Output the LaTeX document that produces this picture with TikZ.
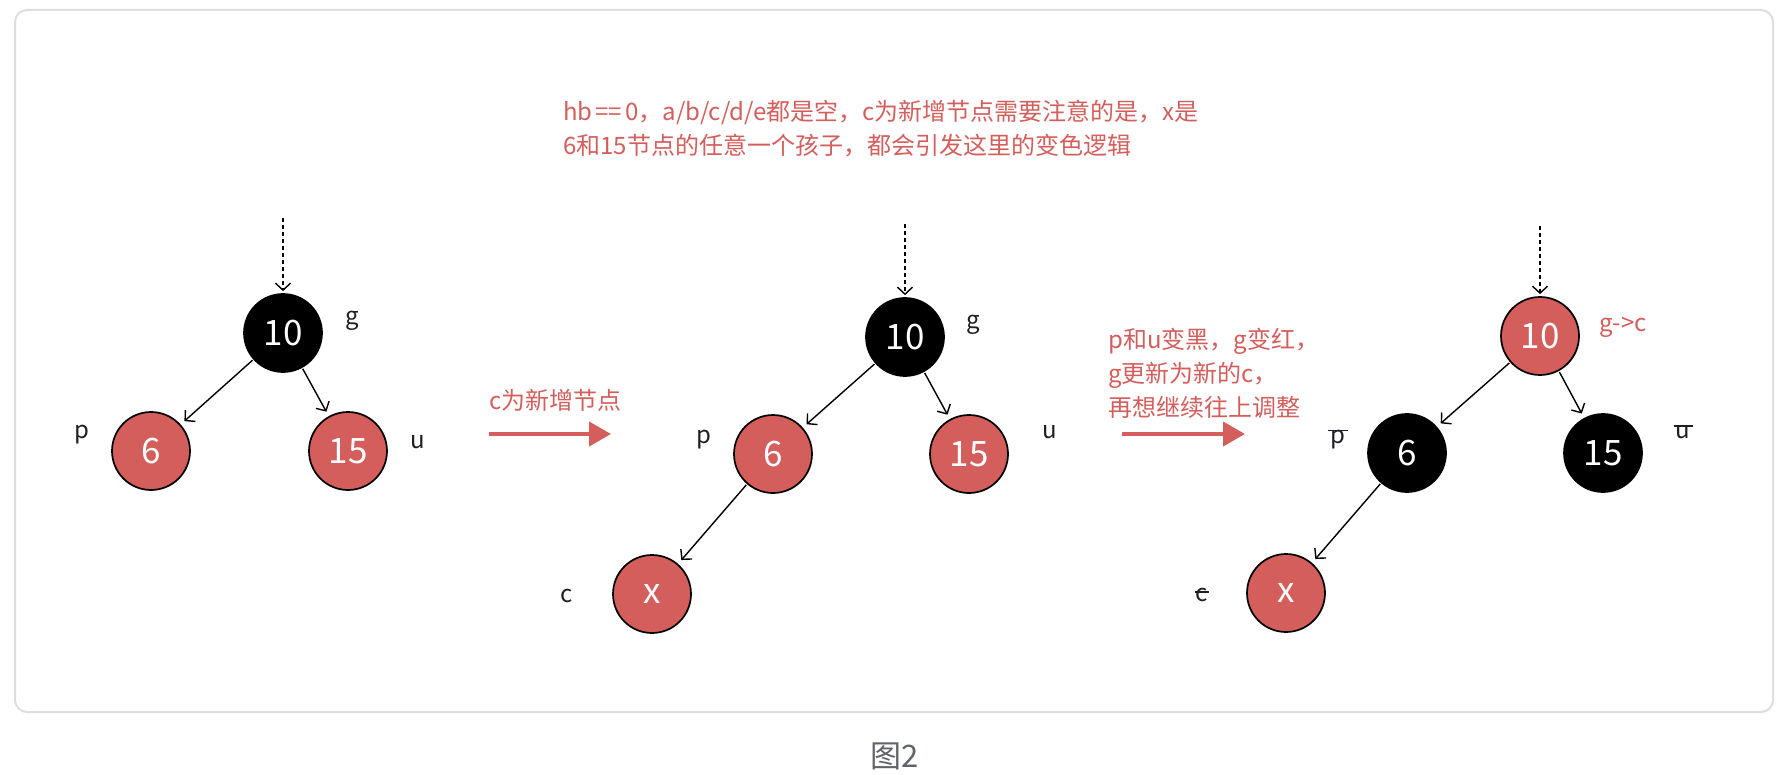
\documentclass[tikz,border=0pt]{standalone}
\usepackage{fontspec}
\setmainfont{Noto Sans CJK SC}
\usetikzlibrary{arrows.meta}
\definecolor{rbred}{RGB}{212,94,91}
\definecolor{framegray}{RGB}{222,222,224}
\definecolor{capgray}{RGB}{95,99,106}
\definecolor{labk}{RGB}{30,30,36}
\begin{document}
\begin{tikzpicture}[x=1pt,y=-1pt,
  rbnode/.style={circle, draw=black, line width=1.7pt, minimum size=78pt, inner sep=0pt, font=\fontsize{35}{35}\selectfont, text=white},
  rednode/.style={rbnode, fill=rbred},
  blknode/.style={rbnode, fill=black},
  edge/.style={line width=1.4pt, -{Straight Barb[length=7pt,width=15pt]}, shorten >=5pt, shorten <=1pt},
  dashedarrow/.style={edge, dash pattern=on 4pt off 3pt, shorten >=2pt},
  lab/.style={inner sep=0pt, font=\fontsize{24}{24}\selectfont, text=labk},
  rtext/.style={inner sep=0pt, font=\fontsize{24}{34}\selectfont, text=rbred, align=left},
  bigarrow/.style={draw=rbred, line width=4pt, -{Triangle[length=22pt,width=24pt]}},
  strike/.style={draw=labk, line width=1.3pt}
]
\useasboundingbox (0,0) rectangle (1790,775);
\fill[white] (0,0) rectangle (1790,775);
\draw[framegray, line width=2pt, rounded corners=12pt] (15,10) rectangle (1773,712);

% top text
\node[rtext, anchor=north west] (top) at (563,100) {hb\hspace{3pt}==\hspace{3pt}0，a/b/c/d/e都是空，c为新增节点需要注意的是，x是\\6和15节点的任意一个孩子，都会引发这里的变色逻辑};

% panel 1
\node[blknode] (g1) at (283,333) {10};
\node[rednode] (p1) at (151,451) {6};
\node[rednode] (u1) at (348,451) {15};
\coordinate (t1) at (283,217);
\draw[dashedarrow] (t1) -- (g1);
\draw[edge] (g1) -- (p1);
\draw[edge] (g1) -- (u1);
\node[lab] (lg1) at (352,321) {g};
\node[lab] (lp1) at (82,435) {p};
\node[lab] (lu1) at (418,442) {u};

% arrow 1
\node[rtext, anchor=west] (a1t) at (489,400) {c为新增节点};
\coordinate (a1s) at (489,434);
\coordinate (a1e) at (611,434);
\draw[bigarrow] (a1s) -- (a1e);

% panel 2
\node[blknode] (g2) at (905,337) {10};
\node[rednode] (p2) at (773,454) {6};
\node[rednode] (u2) at (969,454) {15};
\node[rednode] (x2) at (652,594) {x};
\coordinate (t2) at (905,223);
\draw[dashedarrow] (t2) -- (g2);
\draw[edge] (g2) -- (p2);
\draw[edge] (g2) -- (u2);
\draw[edge] (p2) -- (x2);
\node[lab] (lg2) at (973,325) {g};
\node[lab] (lp2) at (704,440) {p};
\node[lab] (lu2) at (1050,432) {u};
\node[lab] (lc2) at (567,596) {c};

% arrow 2
\node[rtext, anchor=west] (a2t) at (1108,373) {p和u变黑，g变红，\\g更新为新的c，\\再想继续往上调整};
\coordinate (a2s) at (1122,434);
\coordinate (a2e) at (1245,434);
\draw[bigarrow] (a2s) -- (a2e);

% panel 3
\node[rednode] (g3) at (1540,336) {10};
\node[blknode] (p3) at (1407,453) {6};
\node[blknode] (u3) at (1603,453) {15};
\node[rednode] (x3) at (1286,593) {x};
\coordinate (t3) at (1540,225);
\draw[dashedarrow] (t3) -- (g3);
\draw[edge] (g3) -- (p3);
\draw[edge] (g3) -- (u3);
\draw[edge] (p3) -- (x3);
\node[lab, text=rbred] (lg3) at (1623,327) {g->c};
\node[lab] (lp3) at (1338,440) {p};
\draw[strike] ([xshift=-2pt,yshift=0pt]lp3.north west) -- ([xshift=2pt,yshift=0pt]lp3.north east);
\node[lab] (lu3) at (1683,432) {u};
\draw[strike] ([xshift=-2pt,yshift=-1pt]lu3.north west) -- ([xshift=2pt,yshift=-1pt]lu3.north east);
\node[lab] (lc3) at (1202,595) {c};
\draw[strike] ([xshift=-1pt,yshift=-4pt]lc3.north west) -- ([xshift=1pt,yshift=-4pt]lc3.north east);

% caption
\node[inner sep=0pt, font=\fontsize{31}{31}\selectfont, text=capgray] (cap) at (895,756) {图2};
\end{tikzpicture}
\end{document}
